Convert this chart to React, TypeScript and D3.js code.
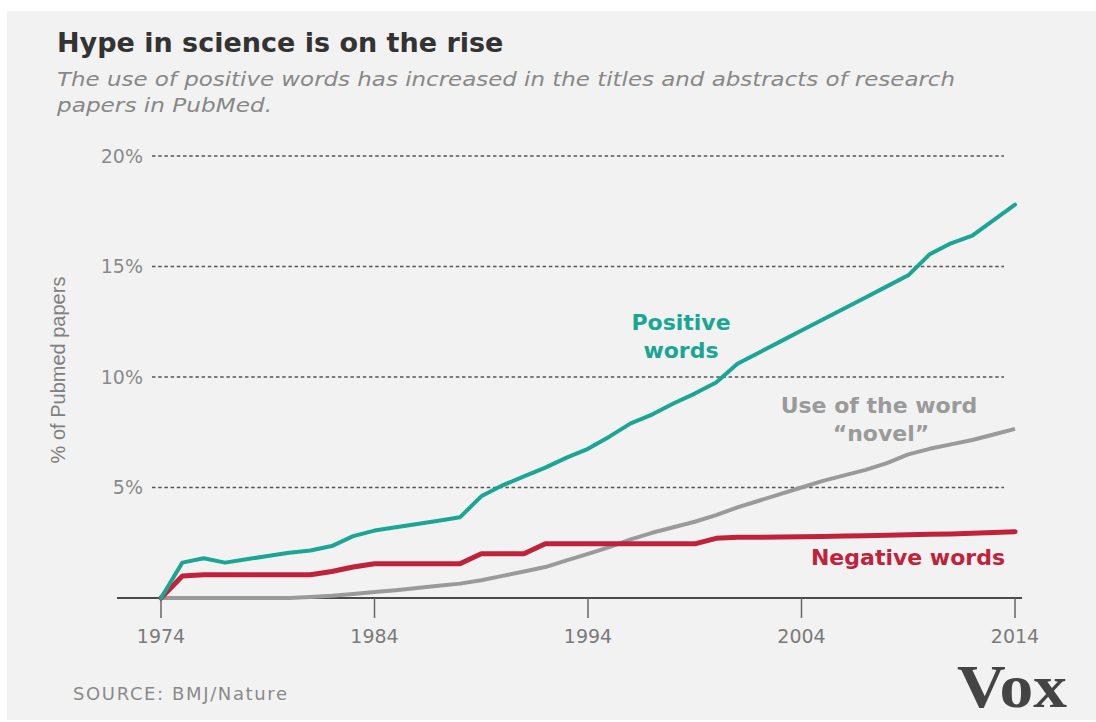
import React from "react";
import * as d3 from "d3";

const years: number[] = d3.range(1974, 2015);

const positiveWords: number[] = [
  0, 1.6, 1.8, 1.6, 1.75, 1.9, 2.05, 2.15, 2.35, 2.8,
  3.05, 3.2, 3.35, 3.5, 3.65, 4.6, 5.1, 5.5, 5.9, 6.35,
  6.75, 7.3, 7.9, 8.3, 8.8, 9.25, 9.75, 10.6, 11.1, 11.6,
  12.1, 12.6, 13.1, 13.6, 14.1, 14.6, 15.55, 16.05, 16.4, 17.1,
  17.8,
];

const negativeWords: number[] = [
  0, 1.0, 1.05, 1.05, 1.05, 1.05, 1.05, 1.05, 1.2, 1.4,
  1.55, 1.55, 1.55, 1.55, 1.55, 2.0, 2.0, 2.0, 2.45, 2.45,
  2.45, 2.45, 2.45, 2.45, 2.45, 2.45, 2.7, 2.75, 2.75, 2.76,
  2.77, 2.78, 2.8, 2.82, 2.84, 2.86, 2.88, 2.9, 2.93, 2.96,
  3.0,
];

const novelWord: number[] = [
  0, 0, 0, 0, 0, 0, 0, 0.05, 0.1, 0.18,
  0.27, 0.35, 0.45, 0.55, 0.65, 0.8, 1.0, 1.2, 1.4, 1.7,
  2.0, 2.3, 2.65, 2.95, 3.2, 3.45, 3.75, 4.1, 4.4, 4.7,
  5.0, 5.3, 5.55, 5.8, 6.1, 6.5, 6.75, 6.95, 7.15, 7.4,
  7.65,
];

const yTicks: number[] = [5, 10, 15, 20];
const xTicks: number[] = [1974, 1984, 1994, 2004, 2014];

const TEAL = "#1ba594";
const RED = "#c1223b";
const GRAY = "#9a9a9a";

export default function App() {
  const W = 1096;
  const H = 722;
  const x = d3.scaleLinear().domain([1974, 2014]).range([161, 1015]);
  const y = d3.scaleLinear().domain([0, 20]).range([598, 156]);

  const line = (vals: number[]) =>
    d3
      .line<number>()
      .x((_, i) => x(years[i]))
      .y((v) => y(v))(vals) as string;

  const axisFont = "'DejaVu Sans', sans-serif";

  return (
    <div style={{ position: "absolute", left: 0, top: 0 }}>
      <svg width={W} height={H} style={{ display: "block" }}>
        <rect x={0} y={0} width={W} height={H} fill="#ffffff" />
        <rect x={7} y={11} width={W - 7} height={709} fill="#f2f2f2" />

        <text
          x={57}
          y={52}
          fontFamily={axisFont}
          fontWeight="bold"
          fontSize={27}
          fill="#333"
        >
          Hype in science is on the rise
        </text>
        <text
          x={57}
          y={86}
          fontFamily={axisFont}
          fontStyle="italic"
          fontSize={20}
          fill="#888"
          textLength={898}
          lengthAdjust="spacingAndGlyphs"
        >
          The use of positive words has increased in the titles and abstracts of research
        </text>
        <text
          x={57}
          y={112}
          fontFamily={axisFont}
          fontStyle="italic"
          fontSize={20}
          fill="#888"
          textLength={215}
          lengthAdjust="spacingAndGlyphs"
        >
          papers in PubMed.
        </text>

        {yTicks.map((t) => (
          <g key={t}>
            <line
              x1={152}
              x2={1004}
              y1={y(t)}
              y2={y(t)}
              stroke="#555"
              strokeWidth={1.4}
              strokeDasharray="3.5,2.7"
            />
            <text
              x={143}
              y={y(t)}
              dy="0.36em"
              textAnchor="end"
              fontFamily={axisFont}
              fontSize={19}
              fill="#8a8a8a"
            >
              {t}%
            </text>
          </g>
        ))}

        <text
          transform={`translate(65,370) rotate(-90)`}
          textAnchor="middle"
          fontFamily="'Liberation Sans', Arial, sans-serif"
          fontSize={20}
          fill="#808080"
        >
          % of Pubmed papers
        </text>

        <line x1={117} x2={1022} y1={y(0)} y2={y(0)} stroke="#4a4a4a" strokeWidth={2} />
        {xTicks.map((t) => (
          <g key={t}>
            <line
              x1={x(t)}
              x2={x(t)}
              y1={y(0)}
              y2={y(0) + 20}
              stroke="#666"
              strokeWidth={1.5}
            />
            <text
              x={x(t)}
              y={643}
              textAnchor="middle"
              fontFamily={axisFont}
              fontSize={19}
              fill="#7a7a7a"
            >
              {t}
            </text>
          </g>
        ))}

        <path d={line(novelWord)} fill="none" stroke={GRAY} strokeWidth={4} strokeLinejoin="round" />
        <path d={line(negativeWords)} fill="none" stroke={RED} strokeWidth={5} strokeLinejoin="round" strokeLinecap="round" />
        <path d={line(positiveWords)} fill="none" stroke={TEAL} strokeWidth={4} strokeLinejoin="round" strokeLinecap="round" />

        <g fontFamily={axisFont} fontWeight="bold" fontSize={22} textAnchor="middle">
          <text x={681} y={330} fill={TEAL}>Positive</text>
          <text x={681} y={358} fill={TEAL}>words</text>
          <text x={879} y={413} fill={GRAY}>Use of the word</text>
          <text x={881} y={441} fill={GRAY}>“novel”</text>
          <text x={1005} y={565} fill={RED} textAnchor="end">Negative words</text>
        </g>

        <text
          x={73}
          y={700}
          fontFamily={axisFont}
          fontSize={18}
          fill="#8a8a8a"
          textLength={214}
          lengthAdjust="spacing"
        >
          SOURCE: BMJ/Nature
        </text>

        <text
          x={957}
          y={707}
          fontFamily="'Liberation Serif', 'Times New Roman', serif"
          fontWeight="bold"
          fontSize={62}
          fill="#444"
          textLength={110}
          lengthAdjust="spacingAndGlyphs"
        >
          Vox
        </text>
      </svg>
    </div>
  );
}
